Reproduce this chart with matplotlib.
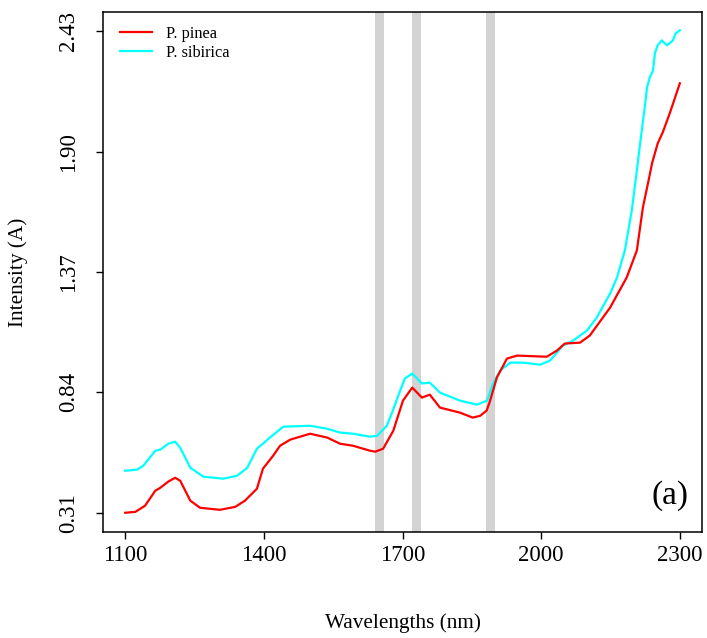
import numpy as np
import matplotlib.pyplot as plt

plt.rcParams['font.family'] = ['Liberation Serif', 'DejaVu Serif']

# P. pinea (red)
wl_pinea = [1100, 1122, 1143, 1165, 1176, 1193, 1208, 1219, 1241, 1262, 1305, 1338,
            1359, 1385, 1398, 1420, 1435, 1457, 1500, 1537, 1565, 1593, 1630, 1641,
            1658, 1680, 1701, 1721, 1742, 1759, 1781, 1824, 1852, 1868, 1882, 1889,
            1904, 1926, 1948, 2012, 2034, 2051, 2084, 2105, 2149, 2185, 2207, 2220,
            2233, 2240, 2252, 2263, 2278, 2300]
int_pinea = [0.310, 0.314, 0.341, 0.407, 0.420, 0.447, 0.464, 0.451, 0.363, 0.332, 0.323, 0.336,
             0.363, 0.416, 0.504, 0.561, 0.605, 0.632, 0.658, 0.641, 0.614, 0.605, 0.583, 0.579,
             0.592, 0.671, 0.804, 0.861, 0.817, 0.830, 0.773, 0.751, 0.729, 0.737, 0.760, 0.800,
             0.905, 0.989, 1.002, 0.997, 1.024, 1.055, 1.059, 1.090, 1.213, 1.346, 1.465, 1.654,
             1.780, 1.850, 1.936, 1.985, 2.068, 2.201]

# P. sibirica (cyan)
wl_sib = [1100, 1126, 1139, 1165, 1176, 1193, 1208, 1219, 1241, 1269, 1312, 1342,
          1364, 1385, 1398, 1413, 1442, 1500, 1537, 1565, 1593, 1630, 1645, 1666,
          1679, 1695, 1705, 1721, 1742, 1759, 1781, 1824, 1861, 1883, 1896, 1911,
          1933, 1961, 1998, 2019, 2047, 2069, 2099, 2120, 2149, 2164, 2181, 2196,
          2207, 2213, 2224, 2229, 2235, 2242, 2246, 2252, 2261, 2272, 2278, 2285,
          2291, 2300]
int_sib = [0.495, 0.500, 0.517, 0.583, 0.588, 0.614, 0.623, 0.596, 0.508, 0.469, 0.460, 0.473,
           0.508, 0.592, 0.614, 0.641, 0.689, 0.693, 0.680, 0.663, 0.658, 0.645, 0.649, 0.693,
           0.760, 0.848, 0.901, 0.923, 0.879, 0.883, 0.839, 0.804, 0.786, 0.804, 0.879, 0.936,
           0.971, 0.971, 0.962, 0.980, 1.046, 1.068, 1.112, 1.169, 1.275, 1.346, 1.465, 1.641,
           1.817, 1.919, 2.095, 2.183, 2.227, 2.258, 2.333, 2.368, 2.390, 2.368, 2.377, 2.390,
           2.421, 2.434]

bands = [(1640, 1660), (1720, 1740), (1880, 1900)]
xticks = [1100, 1400, 1700, 2000, 2300]
yticks = [0.31, 0.84, 1.37, 1.90, 2.43]

fig = plt.figure(figsize=(7.07, 6.38), dpi=100)
ax = fig.add_axes([0.1457, 0.1661, 0.8473, 0.8151])

for a, b in bands:
    ax.axvspan(a, b, color='#d3d3d3', lw=0, zorder=1)

ax.plot(wl_pinea, int_pinea, color='red', lw=1.6, label='P. pinea', zorder=3)
ax.plot(wl_sib, int_sib, color='cyan', lw=1.6, label='P. sibirica', zorder=2)

ax.set_xlim(1052, 2348)
ax.set_ylim(0.2252, 2.5148)
ax.set_xticks(xticks)
ax.set_xticklabels([str(t) for t in xticks])
ax.set_yticks(yticks)
ax.set_yticklabels(['%.2f' % t for t in yticks], rotation=90, va='center')
ax.tick_params(direction='out', length=5, width=1, labelsize=16.5)
ax.tick_params(axis='x', pad=4.5)
ax.tick_params(axis='y', pad=12)
for s in ax.spines.values():
    s.set_linewidth(1.1)

fig.text(402.5 / 707, 1 - 623 / 638, 'Wavelengths (nm)', fontsize=15.3,
         ha='center', va='center')
fig.text(18 / 707, 1 - 272 / 638, 'Intensity (A)', fontsize=15.3,
         ha='center', va='center', rotation=90)

ax.legend(loc='upper left', bbox_to_anchor=(0.028, 0.974), frameon=False,
          fontsize=11.7, handlelength=2.0, handletextpad=0.86,
          labelspacing=0.22, borderpad=0, borderaxespad=0)

ax.text(0.977, 0.071, '(a)', transform=ax.transAxes, ha='right', va='center', fontsize=24)

fig.savefig('out.png', dpi=100)
